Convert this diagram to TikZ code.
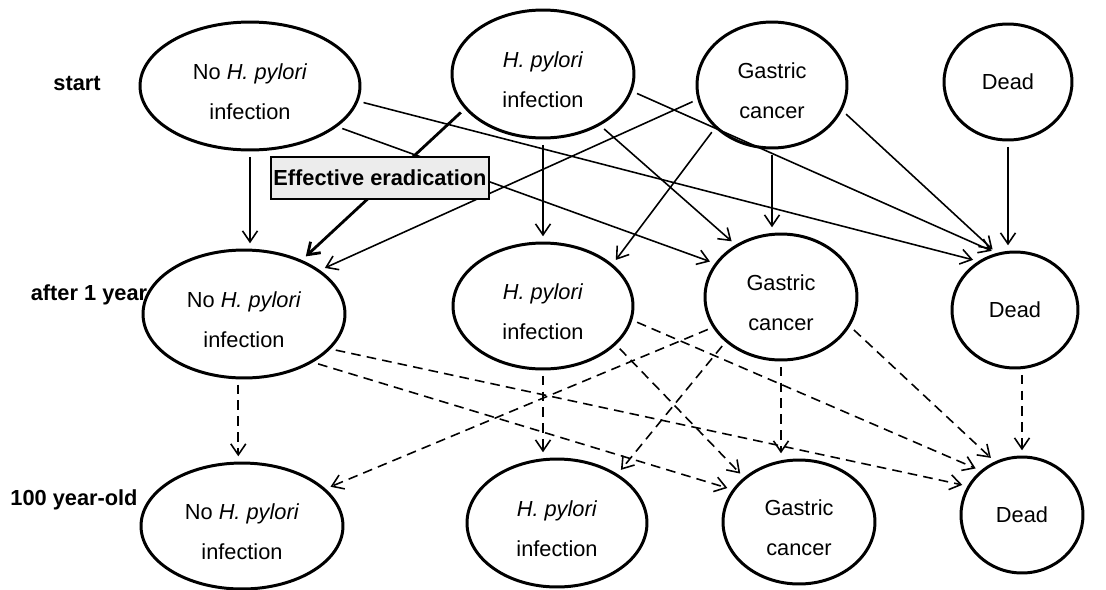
\documentclass[tikz,border=0pt]{standalone}
\usepackage{fontspec}
\setmainfont{Liberation Sans}
\usetikzlibrary{shapes.geometric,arrows.meta,calc}

\begin{document}
\begin{tikzpicture}[x=0.02cm, y=-0.02cm,
		arrow/.style = {line width=0.9pt,-{Straight Barb[length=2.2mm,width=3mm]}, shorten <=3pt, shorten >=3pt},
		darrow/.style = {arrow, dash pattern=on 5.5pt off 3.5pt},
		earrow/.style = {arrow, line width=1.6pt}]
		\tikzset{state/.style={ellipse,draw=black,line width=1.7pt,inner sep=0pt,align=center,font=\fontsize{12.4}{22.8}\selectfont},
			stage/.style={inner sep=0pt,font=\fontsize{12.4}{15}\selectfont\bfseries}}

		\useasboundingbox (0,0) rectangle (1106,589);

		% Stages
		\node[stage] (start) at (77,83) {start};
		\node[stage] (year1) at (89,295) {after 1 year};
		\node[stage] (year100) at (74,500) {100 year-old};

		% start
		\node[state, minimum width=4.4cm, minimum height=2.56cm] (n1) at (250,86) {\rule{0pt}{16pt}No \textit{H. pylori}\\infection};
		\node[state, minimum width=3.64cm, minimum height=2.56cm] (h1) at (543,74) {\rule{0pt}{16pt}\textit{H. pylori}\\infection};
		\node[state, minimum width=3cm, minimum height=2.52cm] (g1) at (772,85) {\rule{0pt}{16pt}Gastric\\cancer};
		\node[state, minimum width=2.56cm, minimum height=2.32cm] (d1) at (1008,82) {Dead};

		% after 1 year
		\node[state, minimum width=4.04cm, minimum height=2.56cm] (n2) at (244,314) {\rule{0pt}{16pt}No \textit{H. pylori}\\infection};
		\node[state, minimum width=3.6cm, minimum height=2.52cm] (h2) at (543,306) {\rule{0pt}{16pt}\textit{H. pylori}\\infection};
		\node[state, minimum width=3.04cm, minimum height=2.52cm] (g2) at (781,297) {\rule{0pt}{16pt}Gastric\\cancer};
		\node[state, minimum width=2.52cm, minimum height=2.32cm] (d2) at (1015,310) {Dead};

		% 100 year-old
		\node[state, minimum width=4.04cm, minimum height=2.52cm] (n3) at (242,526) {\rule{0pt}{16pt}No \textit{H. pylori}\\infection};
		\node[state, minimum width=3.6cm, minimum height=2.56cm] (h3) at (557,523) {\rule{0pt}{16pt}\textit{H. pylori}\\infection};
		\node[state, minimum width=3.04cm, minimum height=2.48cm] (g3) at (799,522) {\rule{0pt}{16pt}Gastric\\cancer};
		\node[state, minimum width=2.44cm, minimum height=2.32cm] (d3) at (1022,515) {Dead};

		% Arrows, first year
		\draw [arrow] (n1.south) -- (n1.south |- n2.north);
		\draw [earrow] (h1.204) -- (n2.43);
		\draw [arrow] (n1.335) -- (g2.153);
		\draw [arrow] (n1.352) -- (d2.127);
		\draw [arrow] (h1.south) -- (h1.south |- h2.north);
		\draw [arrow] (h1.318) -- (g2.131);
		\draw [arrow] (h1.349) -- (d2.108);
		\draw [arrow] (g1.340) -- (d2.108);
		\draw [arrow] (d1.south) -- (d1.south |- d2.north);
		\draw [arrow] (g1.217) -- (h2.31);
		\draw [arrow] (g1.south) -- (g1.south |- g2.north);
		\draw [arrow] (g1.191) -- (n2.30);

		% Arrows, up to 100 years
		\draw [darrow] (n2.265) -- (n2.265 |- n3.north);
		\draw [darrow] (n2.325) -- (g3.154);
		\draw [darrow] (n2.338) -- (d3.152);
		\draw [darrow] (h2.south) -- (h2.south |- h3.north);
		\draw [darrow] (h2.332) -- (g3.141);
		\draw [darrow] (h2.351) -- (d3.133);
		\draw [darrow] (g2.204) -- (n3.24);
		\draw [darrow] (g2.219) -- (h3.39);
		\draw [darrow] (g2.south) -- (g2.south |- g3.north);
		\draw [darrow] (g2.337) -- (d3.117);
		\draw [darrow] (d3.north |- d2.south) -- (d3.north);

		% Eradication
		\node[draw=black, line width=1.2pt, fill=gray!15, inner sep=0pt, minimum width=4.36cm, minimum height=0.84cm, font=\fontsize{12.4}{15}\selectfont\bfseries] (erad) at (380,178) {Effective eradication};

	\end{tikzpicture}
\end{document}
